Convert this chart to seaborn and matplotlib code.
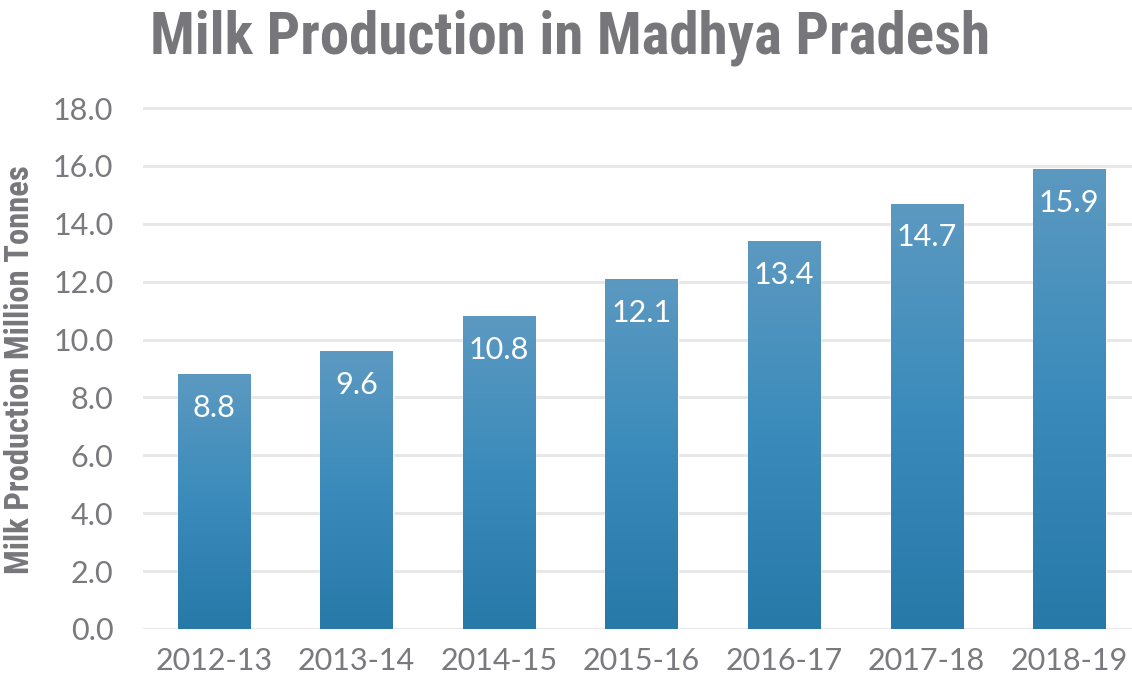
import matplotlib
matplotlib.use("Agg")
import matplotlib.pyplot as plt
import seaborn as sns
import numpy as np
import pandas as pd
from matplotlib.colors import LinearSegmentedColormap

years = ["2012-13", "2013-14", "2014-15", "2015-16", "2016-17", "2017-18", "2018-19"]
production = [8.8, 9.6, 10.8, 12.1, 13.4, 14.7, 15.9]
title = "Milk Production in Madhya Pradesh"
ylabel = "Milk Production Million Tonnes"

sns.set_theme(style="white")
plt.rcParams['font.family'] = ['Lato', 'DejaVu Sans']
plt.rcParams['font.weight'] = 'normal'
cond = ['Roboto Condensed', 'DejaVu Sans']

grey = "#7a7a7e"
df = pd.DataFrame({"year": years, "value": production})

W, H = 1132, 682
left, right, bottom, top18 = 142.5, 1140.6, 629, 108
ax_h = (bottom - top18) * 20 / 18
fig = plt.figure(figsize=(W/100, H/100), dpi=100)
ax = fig.add_axes([left/W, 1 - bottom/H, (right-left)/W, ax_h/H])
sns.barplot(data=df, x="year", y="value", color="#3a8bbb", width=0.508, ax=ax, zorder=3, saturation=1)
ax.set_yticks(np.arange(0, 19, 2))
ax.set_yticklabels([f"{v:.1f}" for v in np.arange(0, 19, 2)])
for s in ax.spines.values():
    s.set_visible(False)
ax.yaxis.grid(True, color="#e8e8e8", linewidth=2.2, zorder=0)
ax.set_axisbelow(True)
ax.tick_params(axis='y', length=0, labelsize=22, labelcolor=grey, pad=21)
ax.tick_params(axis='x', length=0, labelsize=22, labelcolor=grey, pad=13)
ax.set_xlabel("")
ax.set_ylabel(ylabel, fontsize=23.5, fontweight="bold", color="#77777b", family=cond)
ax.yaxis.set_label_coords((36 - left) / (right - left), (bottom - 370) / ax_h)

grad = np.linspace(0, 1, 256).reshape(-1, 1)
cmap = LinearSegmentedColormap.from_list("g", ["#2779a8", "#3a8bbb", "#5c99c1"])
for p, v in zip(ax.patches, production):
    x0, w = p.get_x(), p.get_width()
    im = ax.imshow(grad, cmap=cmap, origin="lower", aspect="auto",
                   extent=[x0, x0 + w, 0, v], zorder=4)
    im.set_clip_path(p)
    ax.text(x0 + w/2, v - 1.17, f"{v:.1f}", ha="center", va="center",
            color="white", fontsize=22, zorder=5)
ax.set_xlim(-0.5, 6.5)
ax.set_ylim(0, 20)

fig.text(570/W, 1 - 38/H, title, ha="center", va="center", fontsize=42.5,
         fontweight="bold", color="#77777b", family=cond)
fig.savefig("out.png", dpi=100)
